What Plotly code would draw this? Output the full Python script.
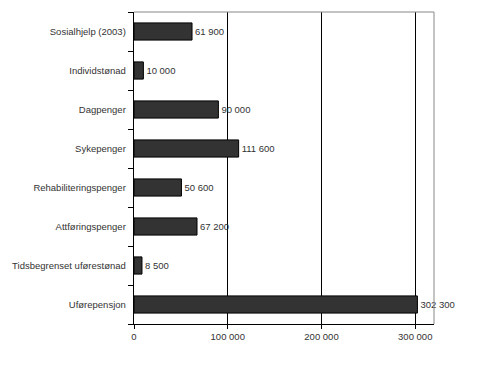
import plotly.graph_objects as go

categories = ["Sosialhjelp (2003)", "Individstønad", "Dagpenger", "Sykepenger",
              "Rehabiliteringspenger", "Attføringspenger",
              "Tidsbegrenset uførestønad", "Uførepensjon"]
values = [61900, 10000, 90000, 111600, 50600, 67200, 8500, 302300]
x_ticks = [0, 100000, 200000, 300000]
x_tick_labels = ["0", "100 000", "200 000", "300 000"]
value_labels = [f"{v:,}".replace(",", " ") for v in values]

fig = go.Figure(go.Bar(
    y=categories, x=values, orientation="h",
    marker=dict(color="#333333", line=dict(color="#000000", width=1)),
    text=value_labels, textposition="outside", cliponaxis=False,
    textfont=dict(family="Liberation Sans, Arial", size=9.5, color="#333333"),
    width=0.44,
))

fig.update_layout(
    width=500, height=373,
    margin=dict(l=122, r=74, t=4, b=57),
    paper_bgcolor="white", plot_bgcolor="white",
    showlegend=False,
    font=dict(family="Liberation Sans, Arial", size=9.5, color="#333333"),
    xaxis=dict(range=[0, 320000], tickvals=x_ticks, ticktext=x_tick_labels,
               showgrid=True, gridcolor="#000000", gridwidth=1,
               ticks="outside", ticklen=4, tickcolor="#000000",
               showline=True, linecolor="#000000", linewidth=1,
               mirror=False, zeroline=False,
               tickfont=dict(size=9.5, color="#333333")),
    yaxis=dict(categoryorder="array", categoryarray=categories[::-1],
               autorange=False, range=[-0.5, 7.5],
               ticks="outside", ticklen=5, tickcolor="#000000",
               tickson="boundaries",
               showline=True, linecolor="#000000", linewidth=1,
               showgrid=False, ticksuffix="  ",
               tickfont=dict(size=9.5, color="#333333")),
    shapes=[
        dict(type="line", xref="paper", yref="paper", x0=0, x1=1, y0=1, y1=1,
             line=dict(color="#888888", width=1)),
        dict(type="line", xref="paper", yref="paper", x0=1, x1=1, y0=0, y1=1,
             line=dict(color="#888888", width=1)),
    ],
)

fig.write_html("out.html")
